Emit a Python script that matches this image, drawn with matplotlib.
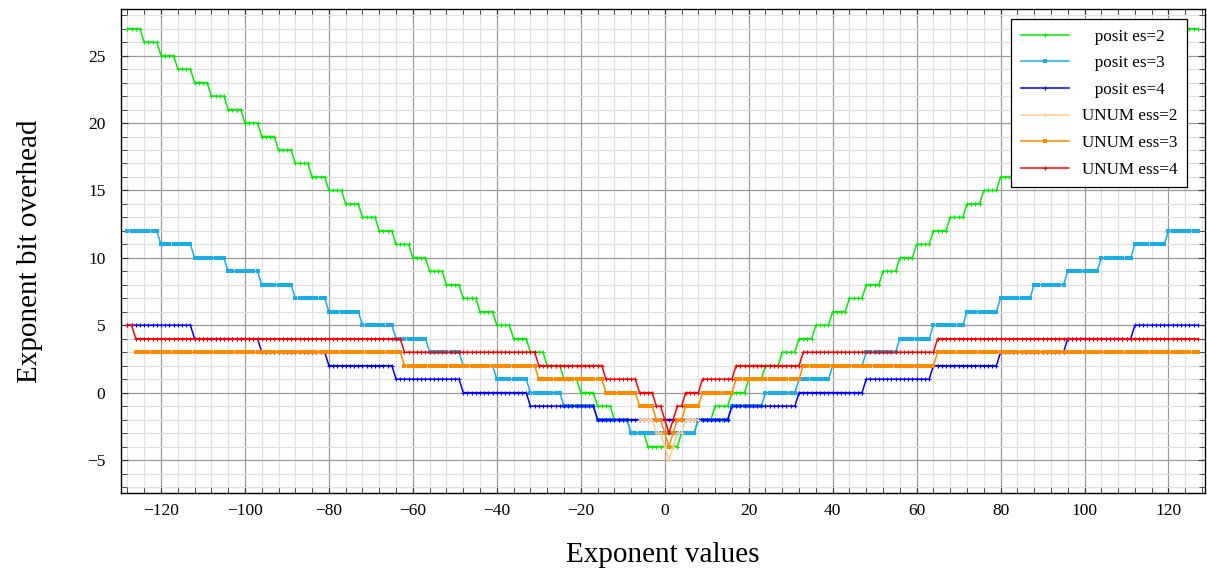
"""
Exponent bit overhead of posits (es=2,3,4) and UNUMs (ess=2,3,4)
versus the binary exponent value.

Writes: out.png
"""
import matplotlib.pyplot as plt
import numpy as np
from matplotlib.ticker import MultipleLocator

plt.rcParams["font.family"] = ["Liberation Serif", "DejaVu Serif"]

# exponent values shown on the x axis
EXPONENTS = np.arange(-128, 128)

# posit curves: one level per regime run, runs are 2**(2**es) wide
POSIT_ES2_LEVELS = [27, 26, 25, 24, 23, 22, 21, 20, 19, 18, 17, 16, 15, 14, 13, 12,
                    11, 10, 9, 8, 7, 6, 5, 4, 3, 2, 1, 0, -1, -2, -3, -4,
                    -4, -3, -2, -1, 0, 1, 2, 3, 4, 5, 6, 7, 8, 9, 10, 11,
                    12, 13, 14, 15, 16, 17, 18, 19, 20, 21, 22, 23, 24, 25, 26, 27]
POSIT_ES2_RUN = 4
POSIT_ES3_LEVELS = [12, 11, 10, 9, 8, 7, 6, 5, 4, 3, 2, 1, 0, -1, -2, -3,
                    -3, -2, -1, 0, 1, 2, 3, 4, 5, 6, 7, 8, 9, 10, 11, 12]
POSIT_ES3_RUN = 8
POSIT_ES4_LEVELS = [5, 4, 3, 2, 1, 0, -1, -2, -2, -1, 0, 1, 2, 3, 4, 5]
POSIT_ES4_RUN = 16

# UNUM curves: (first exponent, last exponent, overhead)
UNUM_ESS2_RUNS = [(-6, -3, -2), (-2, -1, -3), (0, 0, -4), (1, 1, -5), (2, 2, -4),
                  (3, 4, -3), (5, 8, -2)]
UNUM_ESS3_RUNS = [(-126, -63, 3), (-62, -31, 2), (-30, -15, 1), (-14, -7, 0),
                  (-6, -3, -1), (-2, -1, -2), (0, 0, -3), (1, 1, -4), (2, 2, -3),
                  (3, 4, -2), (5, 8, -1), (9, 16, 0), (17, 32, 1), (33, 64, 2),
                  (65, 127, 3)]
UNUM_ESS4_RUNS = [(-128, -127, 5), (-126, -63, 4), (-62, -31, 3), (-30, -15, 2),
                  (-14, -7, 1), (-6, -3, 0), (-2, -1, -1), (0, 0, -2), (1, 1, -3),
                  (2, 2, -2), (3, 4, -1), (5, 8, 0), (9, 16, 1), (17, 32, 2),
                  (33, 64, 3), (65, 127, 4)]

LABELS = ["posit es=2", "posit es=3", "posit es=4",
          "UNUM ess=2", "UNUM ess=3", "UNUM ess=4"]
COLOURS = ["#00ee00", "#1aaee8", "#0000ff", "#ffc98a", "#ff8a00", "#ff0000"]
MARKERS = ["+", "s", "+", "+", "s", "+"]


def expand_runs(runs):
    xs, ys = [], []
    for lo, hi, level in runs:
        seg = np.arange(lo, hi + 1)
        xs.append(seg)
        ys.append(np.full(len(seg), level))
    return np.concatenate(xs), np.concatenate(ys)


def main() -> None:
    series = [
        (EXPONENTS, np.repeat(POSIT_ES2_LEVELS, POSIT_ES2_RUN)),
        (EXPONENTS, np.repeat(POSIT_ES3_LEVELS, POSIT_ES3_RUN)),
        (EXPONENTS, np.repeat(POSIT_ES4_LEVELS, POSIT_ES4_RUN)),
        expand_runs(UNUM_ESS2_RUNS),
        expand_runs(UNUM_ESS3_RUNS),
        expand_runs(UNUM_ESS4_RUNS),
    ]

    fig = plt.figure(figsize=(12.07, 5.72), dpi=100)
    ax = fig.add_axes([0.1, 0.138, 0.898, 0.846])

    for (x, y), label, colour, marker in zip(series, LABELS, COLOURS, MARKERS):
        if marker == "s":
            style = dict(ms=2.4, mew=0)
        else:
            style = dict(ms=3.2, mew=0.8)
        ax.plot(x, y, color=colour, lw=1.1, marker=marker, label=label, **style)

    ax.set_xlim(-129.6, 128.6)
    ax.set_ylim(-7.45, 28.45)
    ax.xaxis.set_major_locator(MultipleLocator(20))
    ax.xaxis.set_minor_locator(MultipleLocator(4))
    ax.yaxis.set_major_locator(MultipleLocator(5))
    ax.yaxis.set_minor_locator(MultipleLocator(1))
    ax.grid(which="major", color="#9a9a9a", lw=0.9)
    ax.grid(which="minor", color="#e0e0e0", lw=0.9)
    ax.set_axisbelow(True)
    ax.tick_params(which="both", direction="in", top=True, right=True,
                   labelsize=12.5, color="#333333")
    ax.tick_params(axis="x", which="major", pad=7)
    ax.tick_params(axis="y", which="major", pad=11)
    ax.tick_params(which="major", length=5)
    ax.tick_params(which="minor", length=4)
    for sp in ax.spines.values():
        sp.set_linewidth(1.0)

    ax.set_xlabel("Exponent values", fontsize=21, labelpad=17)
    ax.set_ylabel("Exponent bit overhead", fontsize=21, labelpad=32)

    # pad the short labels so they sit centred like in the original
    padded = ["   " + l if l.startswith("posit") else l for l in LABELS]
    handles = ax.get_lines()
    leg = ax.legend(handles, padded, loc="upper right",
                    bbox_to_anchor=(0.984, 0.979), borderaxespad=0,
                    fontsize=12.3, frameon=True, fancybox=False, framealpha=1,
                    edgecolor="black", handlelength=2.8, handletextpad=0.8,
                    labelspacing=0.62, borderpad=0.55, markerscale=1.0)
    leg.get_frame().set_linewidth(0.9)

    fig.savefig("out.png", dpi=100)


if __name__ == "__main__":
    main()
